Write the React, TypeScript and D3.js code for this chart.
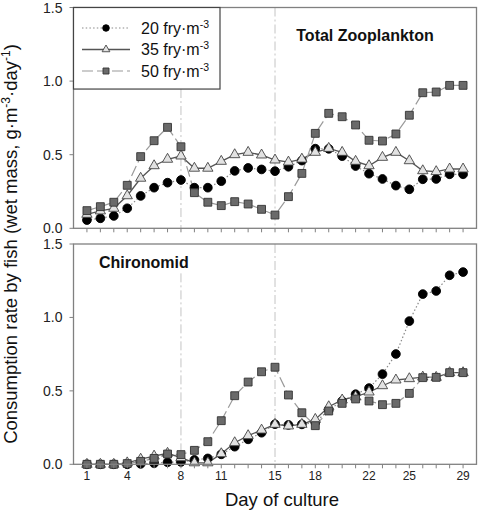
import React from "react";
import * as d3 from "d3";

const days = d3.range(1, 30);
const xTickLabels = [1, 4, 8, 11, 15, 18, 22, 25, 29];
const yTicks = [0, 0.5, 1.0, 1.5];

// Total Zooplankton
const zoo20 = [0.056, 0.068, 0.084, 0.136, 0.22, 0.276, 0.31, 0.328, 0.276, 0.276, 0.32, 0.39, 0.41, 0.4, 0.388, 0.418, 0.46, 0.541, 0.54, 0.49, 0.423, 0.371, 0.335, 0.29, 0.265, 0.333, 0.335, 0.367, 0.367];
const zoo35 = [0.095, 0.118, 0.136, 0.221, 0.34, 0.425, 0.469, 0.491, 0.408, 0.408, 0.455, 0.5, 0.516, 0.498, 0.464, 0.45, 0.47, 0.516, 0.543, 0.516, 0.455, 0.425, 0.482, 0.516, 0.459, 0.391, 0.385, 0.403, 0.403];
const zoo50 = [0.12, 0.147, 0.177, 0.292, 0.487, 0.595, 0.686, 0.554, 0.242, 0.177, 0.154, 0.181, 0.165, 0.129, 0.09, 0.215, 0.373, 0.645, 0.781, 0.758, 0.702, 0.598, 0.593, 0.641, 0.768, 0.921, 0.926, 0.971, 0.971];

// Chironomid
const chi20 = [0, 0, 0, 0, 0.003, 0.007, 0.014, 0.016, 0.03, 0.04, 0.068, 0.12, 0.17, 0.215, 0.273, 0.268, 0.272, 0.285, 0.37, 0.431, 0.477, 0.519, 0.614, 0.751, 0.975, 1.159, 1.18, 1.287, 1.309];
const chi35 = [0, 0, 0, 0.01, 0.035, 0.056, 0.075, 0.045, 0.01, 0.01, 0.072, 0.147, 0.195, 0.233, 0.272, 0.261, 0.272, 0.306, 0.392, 0.438, 0.46, 0.492, 0.535, 0.574, 0.583, 0.594, 0.592, 0.624, 0.624];
const chi50 = [0, 0, 0, 0.005, 0.02, 0.04, 0.07, 0.066, 0.095, 0.154, 0.297, 0.467, 0.56, 0.63, 0.661, 0.472, 0.351, 0.263, 0.363, 0.415, 0.445, 0.431, 0.406, 0.415, 0.483, 0.59, 0.592, 0.624, 0.624];

const legendLabels = ["20", "35", "50"];
const panelTitles = ["Total Zooplankton", "Chironomid"];
const refDays = [8, 15];
const refTopsZoo = [0.946, 1.5];
const refTopsChi = [1.3, 1.5];

const W = 480;
const H = 514;
const FONT = "'Liberation Sans', Arial, sans-serif";
const x = d3.scaleLinear().domain([0, 30]).range([73.5, 476.5]);

const styles = [
  { line: "#8a8a8a", dash: "1.5 2.2", width: 1.2, shape: d3.symbolCircle, size: 60, fill: "#000", stroke: "#000", lsize: 34 },
  { line: "#555", dash: "none", width: 1.3, shape: d3.symbolTriangle, size: 46, fill: "#e2e2e2", stroke: "#444", lsize: 26 },
  { line: "#9a9a9a", dash: "11 4", width: 1.2, shape: d3.symbolSquare, size: 62, fill: "#6a6a6a", stroke: "#333", lsize: 36 },
];

function Panel({ series, y0, y1, title, titleX, titleY, titleAnchor, refTops, showLabels }: any) {
  const y = d3.scaleLinear().domain([0, 1.5]).range([y0, y1]);
  const line = d3.line<number>().x((_, i) => x(days[i])).y((v) => y(v));
  const x0 = x(0), xr = x(30);
  return (
    <g>
      {refDays.map((d, i) => (
        <line key={"r" + d} x1={x(d)} x2={x(d)} y1={y(refTops[i])} y2={y(0)} stroke="#c4c4c4" strokeWidth={1} strokeDasharray="9 3 2 3" />
      ))}
      {series.map((s: number[], k: number) => (
        <path key={"l" + k} d={line(s) || ""} fill="none" stroke={styles[k].line} strokeWidth={styles[k].width} strokeDasharray={styles[k].dash} />
      ))}
      {series.map((s: number[], k: number) => (
        <g key={"m" + k}>
          {s.map((v, i) => (
            <path key={i} transform={`translate(${x(days[i])},${y(v)})`} d={d3.symbol(styles[k].shape, styles[k].size)() || ""} fill={styles[k].fill} stroke={styles[k].stroke} strokeWidth={0.9} />
          ))}
        </g>
      ))}
      <rect x={x0} y={y1} width={xr - x0} height={y0 - y1} fill="none" stroke="#808080" strokeWidth={1.3} />
      {days.map((d) => (
        <line key={"t" + d} x1={x(d)} x2={x(d)} y1={y0} y2={y0 + 4} stroke="#808080" strokeWidth={1} />
      ))}
      {yTicks.map((t) => (
        <g key={"y" + t}>
          <line x1={x0 - 4} x2={x0} y1={y(t)} y2={y(t)} stroke="#808080" strokeWidth={1} />
          <text x={x0 - 11} y={y(t)} dy="0.36em" textAnchor="end" fontSize={14} fill="#222" fontFamily={FONT}>{t.toFixed(1)}</text>
        </g>
      ))}
      {showLabels && xTickLabels.map((t) => (
        <text key={"xl" + t} x={x(t)} y={y0 + 16} textAnchor="middle" fontSize={12} fill="#222" fontFamily={FONT}>{t}</text>
      ))}
      <text x={titleX} y={titleY} textAnchor={titleAnchor} fontSize={16} fontWeight="bold" fill="#111" fontFamily={FONT}>{title}</text>
    </g>
  );
}

export default function App() {
  const x0 = x(0);
  const yTopScale = d3.scaleLinear().domain([0, 1.5]).range([228.3, 7.5]);
  const legendBottom = yTopScale(0.946);
  const rows = [28, 49.5, 71];
  return (
    <svg width={W} height={H} style={{ position: "absolute", left: 0, top: 0, background: "#fff" }} fontFamily={FONT}>
      <rect width={W} height={H} fill="#fff" />
      <Panel series={[zoo20, zoo35, zoo50]} y0={228.3} y1={7.5} title={panelTitles[0]} titleX={365} titleY={40.5} titleAnchor="middle" refTops={refTopsZoo} showLabels={false} />
      <Panel series={[chi20, chi35, chi50]} y0={464.3} y1={244} title={panelTitles[1]} titleX={99} titleY={268} titleAnchor="start" refTops={refTopsChi} showLabels={true} />
      {/* legend */}
      <rect x={x0} y={7.5} width={220 - x0} height={legendBottom - 7.5} fill="#fff" stroke="#444" strokeWidth={1.2} />
      {legendLabels.map((lab, k) => (
        <g key={"lg" + k}>
          <line x1={82} x2={130} y1={rows[k]} y2={rows[k]} stroke={styles[k].line} strokeWidth={styles[k].width} strokeDasharray={styles[k].dash} />
          <path transform={`translate(106,${rows[k]})`} d={d3.symbol(styles[k].shape, styles[k].lsize)() || ""} fill={styles[k].fill} stroke={styles[k].stroke} strokeWidth={0.9} />
          <text x={141} y={rows[k] + 5.5} fontSize={16} fill="#111" fontFamily={FONT}>
            {lab} fry·m<tspan dy={-6} fontSize={10.5}>-3</tspan>
          </text>
        </g>
      ))}
      <text x={282} y={506} textAnchor="middle" fontSize={18.5} fill="#111" fontFamily={FONT}>Day of culture</text>
      <text transform="translate(17,244) rotate(-90)" textAnchor="middle" fontSize={18.5} fill="#111" fontFamily={FONT}>
        Consumption rate by fish (wet mass, g·m<tspan dy={-7} fontSize={12}>-3</tspan><tspan dy={7}>·day</tspan><tspan dy={-7} fontSize={12}>-1</tspan><tspan dy={7}>)</tspan>
      </text>
    </svg>
  );
}
